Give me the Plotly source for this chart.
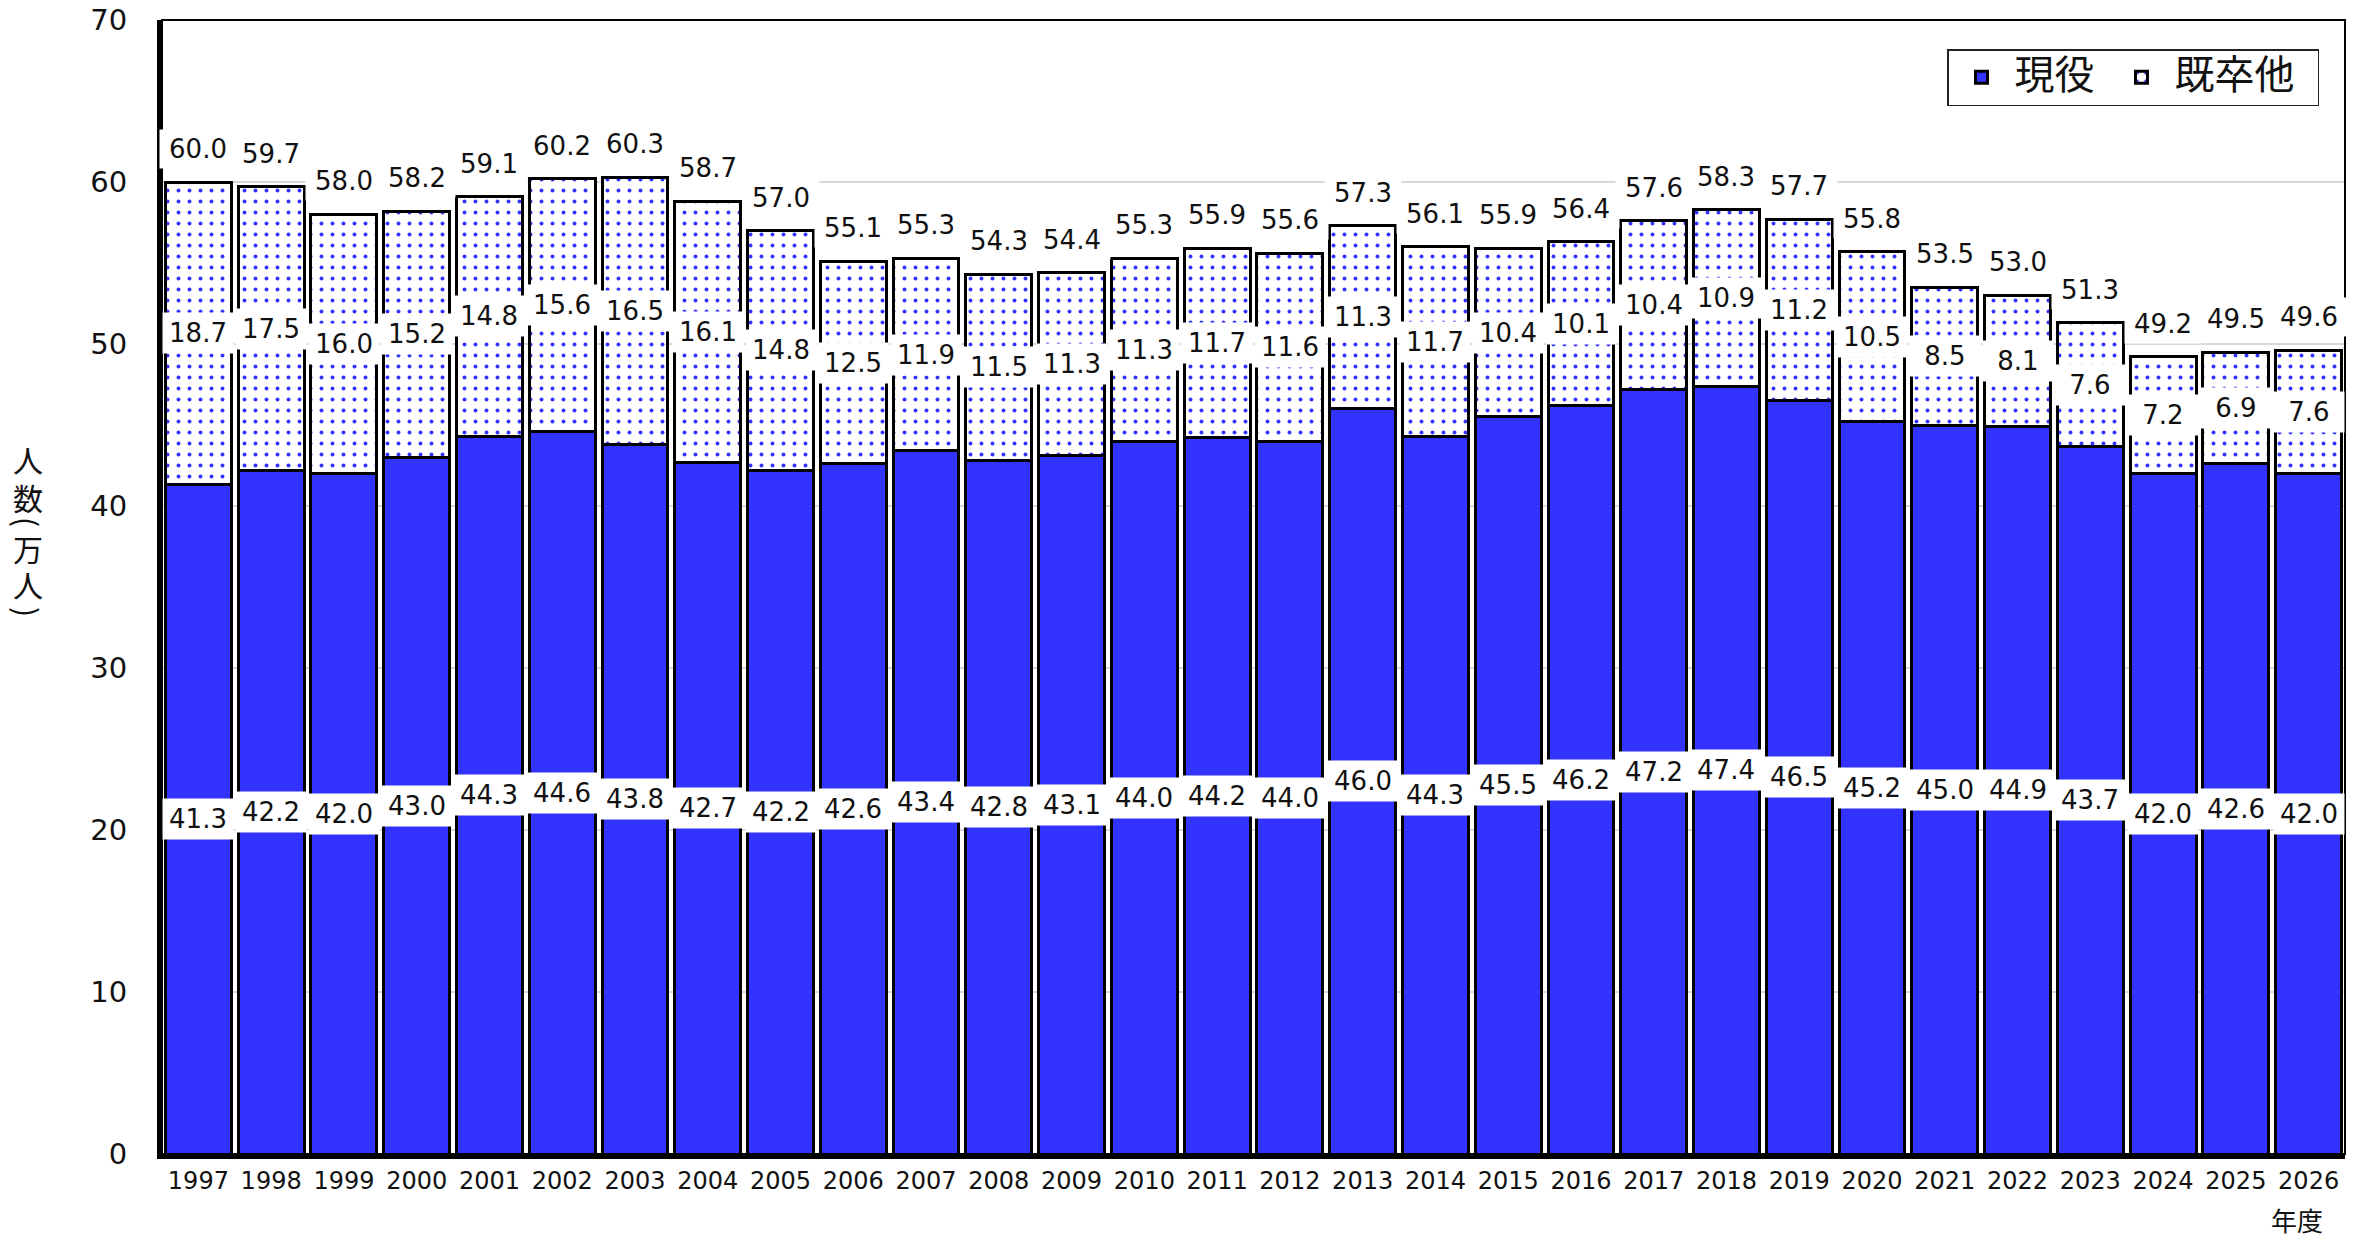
import plotly.graph_objects as go

years = [str(y) for y in range(1997, 2027)]
genneki = [41.3, 42.2, 42.0, 43.0, 44.3, 44.6, 43.8, 42.7, 42.2, 42.6, 43.4, 42.8, 43.1, 44.0, 44.2,
           44.0, 46.0, 44.3, 45.5, 46.2, 47.2, 47.4, 46.5, 45.2, 45.0, 44.9, 43.7, 42.0, 42.6, 42.0]
kisotsu = [18.7, 17.5, 16.0, 15.2, 14.8, 15.6, 16.5, 16.1, 14.8, 12.5, 11.9, 11.5, 11.3, 11.3, 11.7,
           11.6, 11.3, 11.7, 10.4, 10.1, 10.4, 10.9, 11.2, 10.5, 8.5, 8.1, 7.6, 7.2, 6.9, 7.6]
totals = [60.0, 59.7, 58.0, 58.2, 59.1, 60.2, 60.3, 58.7, 57.0, 55.1, 55.3, 54.3, 54.4, 55.3, 55.9,
          55.6, 57.3, 56.1, 55.9, 56.4, 57.6, 58.3, 57.7, 55.8, 53.5, 53.0, 51.3, 49.2, 49.5, 49.6]
series_names = ["現役", "既卒他"]
y_title_chars = ["人", "数", "(", "万", "人", ")"]
x_unit = "年度"

BLUE = "#3333ff"
NUMFONT = "DejaVu Sans"
CJK = "Noto Sans CJK JP"

# page geometry: the browser body has an 8px margin
OFF = 8
W, H = 2371 - OFF, 1237 - OFF
L, R, T, B = 162 - OFF, 26, 20 - OFF, 83
PW, PH = W - L - R, H - T - B


def px_to_paper_x(px):
    return (px - OFF - L) / PW


def px_to_paper_y(py):
    return (OFF + H - B - py) / PH


def legend_label(name, pad):
    return f'<span style="font-size:40px">{name}{"&nbsp;" * pad}</span>'


fig = go.Figure()
fig.add_trace(go.Bar(
    x=years, y=genneki, name=legend_label(series_names[0], 1),
    marker=dict(color=BLUE, line=dict(color="black", width=3)),
))
fig.add_trace(go.Bar(
    x=years, y=kisotsu, name=legend_label(series_names[1], 2),
    marker=dict(color="white", line=dict(color="black", width=3),
                pattern=dict(shape=".", fgcolor=BLUE, bgcolor="white", size=11, solidity=0.1,
                             fillmode="replace")),
))

lblfont = dict(family=NUMFONT, size=26, color="#111")
annotations = []
for i, yr in enumerate(years):
    g, k, t = genneki[i], kisotsu[i], totals[i]
    annotations.append(dict(x=i, y=g / 2, xref="x", yref="y", text=f"{g:.1f}", showarrow=False,
                            bgcolor="white", width=68, height=38, font=lblfont))
    annotations.append(dict(x=i, y=g + k / 2, xref="x", yref="y", text=f"{k:.1f}", showarrow=False,
                            bgcolor="white", width=68, height=38, font=lblfont))
    annotations.append(dict(x=i, y=g + k, xref="x", yref="y", text=f"{t:.1f}", showarrow=False,
                            yshift=33, bgcolor="white", width=74, height=36, font=lblfont))

# vertical y-axis title (stacked characters, parentheses turned for vertical writing)
title_centers_px = [459, 497, 522, 548, 584, 612]
for ch, py in zip(y_title_chars, title_centers_px):
    is_paren = ch in "()"
    annotations.append(dict(x=px_to_paper_x(28), y=px_to_paper_y(py), xref="paper", yref="paper",
                            text=ch, showarrow=False, xanchor="center", yanchor="middle",
                            textangle=90 if is_paren else 0,
                            font=dict(family=CJK, size=30, color="#111")))
annotations.append(dict(x=px_to_paper_x(2297), y=px_to_paper_y(1219), xref="paper", yref="paper",
                        text=x_unit, showarrow=False, xanchor="center", yanchor="middle",
                        font=dict(family=CJK, size=26, color="#111")))

fig.update_layout(
    width=W, height=H,
    margin=dict(l=L, r=R, t=T, b=B, pad=0, autoexpand=False),
    barmode="stack", bargap=0.095,
    plot_bgcolor="white", paper_bgcolor="white",
    showlegend=True,
    legend=dict(orientation="h", x=px_to_paper_x(2319), y=px_to_paper_y(49),
                xanchor="right", yanchor="top",
                bgcolor="white", bordercolor="#222", borderwidth=1.5,
                font=dict(family=CJK, size=31, color="#111"), itemwidth=56,
                tracegroupgap=0, traceorder="normal"),
    annotations=annotations,
    shapes=[dict(type="rect", xref="paper", yref="paper", x0=0, x1=1, y0=0, y1=1,
                 line=dict(color="black", width=2), layer="above")],
)
fig.update_xaxes(type="category", range=[-0.5, len(years) - 0.5], automargin=False,
                 showline=True, linecolor="black", linewidth=5, ticks="",
                 ticklabelstandoff=1, tickangle=0,
                 tickfont=dict(family=NUMFONT, size=24, color="#111"), showgrid=False)
fig.update_yaxes(range=[0, 70], dtick=10, automargin=False, showline=True, linecolor="black",
                 linewidth=5, ticks="", ticklabelstandoff=24, ticklabeloverflow="allow",
                 tickfont=dict(family=NUMFONT, size=29, color="#111"),
                 showgrid=True, gridcolor="#d8d8d8", gridwidth=1.5, zeroline=False)

fig.write_html("out.html")
